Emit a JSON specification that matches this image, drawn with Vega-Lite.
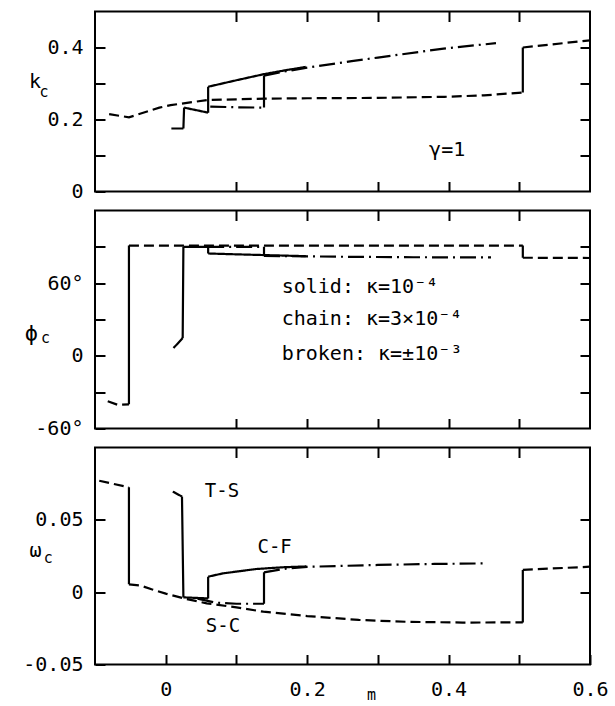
{
  "$schema": "https://vega.github.io/schema/vega-lite/v6.json",
  "padding": {"left": 21, "top": 9.5, "right": 5, "bottom": 4},
  "background": "white",
  "spacing": 19,
  "bounds": "flush",
  "datasets": {
    "p1": [
      {"curve": "broken", "seg": "b1", "m": -0.080, "v": 0.215},
      {"curve": "broken", "seg": "b1", "m": -0.052, "v": 0.206},
      {"curve": "broken", "seg": "b1", "m": -0.009, "v": 0.233},
      {"curve": "broken", "seg": "b1", "m": 0.007, "v": 0.240},
      {"curve": "broken", "seg": "b1", "m": 0.059, "v": 0.254},
      {"curve": "broken", "seg": "b1", "m": 0.14, "v": 0.258},
      {"curve": "broken", "seg": "b1", "m": 0.20, "v": 0.259},
      {"curve": "broken", "seg": "b1", "m": 0.30, "v": 0.260},
      {"curve": "broken", "seg": "b1", "m": 0.394, "v": 0.263},
      {"curve": "broken", "seg": "b1", "m": 0.45, "v": 0.267},
      {"curve": "broken", "seg": "b1", "m": 0.505, "v": 0.275},
      {"curve": "jump", "seg": "bj1", "m": 0.505, "v": 0.275},
      {"curve": "jump", "seg": "bj1", "m": 0.505, "v": 0.400},
      {"curve": "broken", "seg": "b2", "m": 0.505, "v": 0.400},
      {"curve": "broken", "seg": "b2", "m": 0.6, "v": 0.420},
      {"curve": "chain", "seg": "c1", "m": 0.063, "v": 0.236},
      {"curve": "chain", "seg": "c1", "m": 0.10, "v": 0.234},
      {"curve": "chain", "seg": "c1", "m": 0.139, "v": 0.233},
      {"curve": "jump", "seg": "cj1", "m": 0.139, "v": 0.233},
      {"curve": "jump", "seg": "cj1", "m": 0.139, "v": 0.322},
      {"curve": "chain", "seg": "c2", "m": 0.139, "v": 0.322},
      {"curve": "chain", "seg": "c2", "m": 0.17, "v": 0.334},
      {"curve": "chain", "seg": "c2", "m": 0.20, "v": 0.344},
      {"curve": "chain", "seg": "c2", "m": 0.263, "v": 0.362},
      {"curve": "chain", "seg": "c2", "m": 0.30, "v": 0.372},
      {"curve": "chain", "seg": "c2", "m": 0.393, "v": 0.397},
      {"curve": "chain", "seg": "c2", "m": 0.467, "v": 0.412},
      {"curve": "solid", "seg": "s1", "m": 0.008, "v": 0.175},
      {"curve": "solid", "seg": "s1", "m": 0.025, "v": 0.175},
      {"curve": "jump", "seg": "sj1", "m": 0.025, "v": 0.175},
      {"curve": "jump", "seg": "sj1", "m": 0.026, "v": 0.233},
      {"curve": "solid", "seg": "s2", "m": 0.026, "v": 0.233},
      {"curve": "solid", "seg": "s2", "m": 0.06, "v": 0.219},
      {"curve": "jump", "seg": "sj2", "m": 0.06, "v": 0.219},
      {"curve": "jump", "seg": "sj2", "m": 0.06, "v": 0.291},
      {"curve": "solid", "seg": "s3", "m": 0.06, "v": 0.291},
      {"curve": "solid", "seg": "s3", "m": 0.10, "v": 0.309},
      {"curve": "solid", "seg": "s3", "m": 0.139, "v": 0.326},
      {"curve": "solid", "seg": "s3", "m": 0.17, "v": 0.337},
      {"curve": "solid", "seg": "s3", "m": 0.198, "v": 0.346}
    ],
    "p2": [
      {"curve": "broken", "seg": "b1", "m": -0.082, "v": -37.5},
      {"curve": "broken", "seg": "b1", "m": -0.068, "v": -40.4},
      {"curve": "broken", "seg": "b1", "m": -0.052, "v": -40.0},
      {"curve": "jump", "seg": "bj1", "m": -0.052, "v": -40.0},
      {"curve": "jump", "seg": "bj1", "m": -0.052, "v": 91},
      {"curve": "broken", "seg": "b2", "m": -0.052, "v": 91},
      {"curve": "broken", "seg": "b2", "m": 0.505, "v": 91},
      {"curve": "jump", "seg": "bj2", "m": 0.505, "v": 91},
      {"curve": "jump", "seg": "bj2", "m": 0.505, "v": 81},
      {"curve": "broken", "seg": "b3", "m": 0.505, "v": 81},
      {"curve": "broken", "seg": "b3", "m": 0.6, "v": 80.8},
      {"curve": "solid", "seg": "s1", "m": 0.011, "v": 6.4},
      {"curve": "solid", "seg": "s1", "m": 0.024, "v": 14.7},
      {"curve": "jump", "seg": "sj1", "m": 0.024, "v": 14.7},
      {"curve": "jump", "seg": "sj1", "m": 0.025, "v": 90},
      {"curve": "solid", "seg": "s2", "m": 0.025, "v": 90},
      {"curve": "solid", "seg": "s2", "m": 0.06, "v": 90},
      {"curve": "jump", "seg": "sj2", "m": 0.06, "v": 90},
      {"curve": "jump", "seg": "sj2", "m": 0.06, "v": 84.5},
      {"curve": "solid", "seg": "s3", "m": 0.06, "v": 84.5},
      {"curve": "solid", "seg": "s3", "m": 0.10, "v": 83.8},
      {"curve": "solid", "seg": "s3", "m": 0.139, "v": 83.2},
      {"curve": "solid", "seg": "s3", "m": 0.198, "v": 82.3},
      {"curve": "chain", "seg": "c1", "m": 0.06, "v": 90},
      {"curve": "chain", "seg": "c1", "m": 0.139, "v": 90},
      {"curve": "jump", "seg": "cj1", "m": 0.139, "v": 90},
      {"curve": "jump", "seg": "cj1", "m": 0.139, "v": 82.5},
      {"curve": "chain", "seg": "c2", "m": 0.139, "v": 82.5},
      {"curve": "chain", "seg": "c2", "m": 0.25, "v": 81.8},
      {"curve": "chain", "seg": "c2", "m": 0.35, "v": 81.4},
      {"curve": "chain", "seg": "c2", "m": 0.46, "v": 81.3}
    ],
    "p3": [
      {"curve": "broken", "seg": "b1", "m": -0.094, "v": 0.077},
      {"curve": "broken", "seg": "b1", "m": -0.052, "v": 0.0725},
      {"curve": "jump", "seg": "bj1", "m": -0.052, "v": 0.0725},
      {"curve": "jump", "seg": "bj1", "m": -0.052, "v": 0.0054},
      {"curve": "broken", "seg": "b2", "m": -0.052, "v": 0.0054},
      {"curve": "broken", "seg": "b2", "m": -0.035, "v": 0.0045},
      {"curve": "broken", "seg": "b2", "m": -0.02, "v": 0.002},
      {"curve": "broken", "seg": "b2", "m": 0.0, "v": -0.001},
      {"curve": "broken", "seg": "b2", "m": 0.03, "v": -0.0048},
      {"curve": "broken", "seg": "b2", "m": 0.058, "v": -0.0077},
      {"curve": "broken", "seg": "b2", "m": 0.10, "v": -0.0105},
      {"curve": "broken", "seg": "b2", "m": 0.138, "v": -0.0135},
      {"curve": "broken", "seg": "b2", "m": 0.20, "v": -0.0165},
      {"curve": "broken", "seg": "b2", "m": 0.273, "v": -0.0192},
      {"curve": "broken", "seg": "b2", "m": 0.342, "v": -0.0205},
      {"curve": "broken", "seg": "b2", "m": 0.42, "v": -0.021},
      {"curve": "broken", "seg": "b2", "m": 0.505, "v": -0.0209},
      {"curve": "jump", "seg": "bj2", "m": 0.505, "v": -0.0209},
      {"curve": "jump", "seg": "bj2", "m": 0.505, "v": 0.0154},
      {"curve": "broken", "seg": "b3", "m": 0.505, "v": 0.0154},
      {"curve": "broken", "seg": "b3", "m": 0.6, "v": 0.0176},
      {"curve": "solid", "seg": "s1", "m": 0.010, "v": 0.0695},
      {"curve": "solid", "seg": "s1", "m": 0.023, "v": 0.0661},
      {"curve": "jump", "seg": "sj1", "m": 0.023, "v": 0.0661},
      {"curve": "jump", "seg": "sj1", "m": 0.025, "v": -0.0036},
      {"curve": "solid", "seg": "s2", "m": 0.025, "v": -0.0036},
      {"curve": "solid", "seg": "s2", "m": 0.06, "v": -0.0043},
      {"curve": "jump", "seg": "sj2", "m": 0.06, "v": -0.0043},
      {"curve": "jump", "seg": "sj2", "m": 0.06, "v": 0.0107},
      {"curve": "solid", "seg": "s3", "m": 0.06, "v": 0.0107},
      {"curve": "solid", "seg": "s3", "m": 0.081, "v": 0.013},
      {"curve": "solid", "seg": "s3", "m": 0.128, "v": 0.016},
      {"curve": "solid", "seg": "s3", "m": 0.165, "v": 0.0172},
      {"curve": "solid", "seg": "s3", "m": 0.199, "v": 0.0178},
      {"curve": "chain", "seg": "c1", "m": 0.045, "v": -0.0045},
      {"curve": "chain", "seg": "c1", "m": 0.07, "v": -0.0072},
      {"curve": "chain", "seg": "c1", "m": 0.10, "v": -0.008},
      {"curve": "chain", "seg": "c1", "m": 0.139, "v": -0.008},
      {"curve": "jump", "seg": "cj1", "m": 0.139, "v": -0.008},
      {"curve": "jump", "seg": "cj1", "m": 0.139, "v": 0.0137},
      {"curve": "chain", "seg": "c2", "m": 0.139, "v": 0.0137},
      {"curve": "chain", "seg": "c2", "m": 0.17, "v": 0.0163},
      {"curve": "chain", "seg": "c2", "m": 0.20, "v": 0.0175},
      {"curve": "chain", "seg": "c2", "m": 0.30, "v": 0.0188},
      {"curve": "chain", "seg": "c2", "m": 0.38, "v": 0.0195},
      {"curve": "chain", "seg": "c2", "m": 0.455, "v": 0.0199}
    ],
    "t1main": [{"m": -0.185, "v": 0.303, "t": "k"}],
    "t1sub": [{"m": -0.172, "v": 0.276, "t": "c"}],
    "t1note": [{"m": 0.398, "v": 0.116, "t": "γ=1"}],
    "t2main": [{"m": -0.19, "v": 18, "t": "ϕ"}],
    "t2sub": [{"m": -0.17, "v": 15, "t": "c"}],
    "t2note": [
      {"m": 0.164, "v": 56.6, "t": "solid: κ=10⁻⁴"},
      {"m": 0.164, "v": 30.4, "t": "chain: κ=3×10⁻⁴"},
      {"m": 0.164, "v": 1.5, "t": "broken: κ=±10⁻³"}
    ],
    "t3main": [{"m": -0.184, "v": 0.0282, "t": "ω"}],
    "t3sub": [{"m": -0.166, "v": 0.0234, "t": "c"}],
    "t3note": [
      {"m": 0.0795, "v": 0.070, "t": "T-S"},
      {"m": 0.154, "v": 0.0315, "t": "C-F"},
      {"m": 0.081, "v": -0.0235, "t": "S-C"}
    ]
  },
  "vconcat": [
    {
      "width": 495,
      "height": 180,
      "resolve": {"axis": {"x": "independent", "y": "independent"}},
      "layer": [
        {
          "data": {"name": "p1"},
          "mark": {"type": "line", "color": "black", "strokeWidth": 2.2},
          "encoding": {
            "x": {"field": "m", "type": "quantitative", "scale": {"domain": [-0.1, 0.6], "nice": false, "zero": false},
                  "axis": {"orient": "bottom", "values": [0.1, 0.2, 0.3, 0.4, 0.5], "labels": false, "title": null}},
            "y": {"field": "v", "type": "quantitative", "scale": {"domain": [0, 0.5], "nice": false, "zero": false},
                  "axis": {"orient": "left", "values": [0, 0.1, 0.2, 0.3, 0.4], "labelExpr": "datum.value==0 ? '0' : (datum.value==0.2 ? '0.2' : (datum.value==0.4 ? '0.4' : ''))", "title": null}},
            "detail": {"field": "seg"},
            "strokeDash": {"field": "curve", "type": "nominal", "scale": {"domain": ["solid", "chain", "broken", "jump"], "range": [[1, 0], [16, 5, 2, 5], [10, 5], [1, 0]]}, "legend": null}
          }
        },
        {
          "mark": {"type": "rule", "color": "black", "strokeWidth": 2},
          "encoding": {"x": {"datum": 0, "type": "quantitative", "scale": {"domain": [-0.1, 0.6], "nice": false, "zero": false}, "axis": null}}
        },
        {
          "data": {"name": "t1main"},
          "mark": {"type": "text", "fontSize": 20},
          "encoding": {
            "x": {"field": "m", "type": "quantitative", "scale": {"domain": [-0.1, 0.6], "nice": false, "zero": false},
                  "axis": {"orient": "top", "values": [0.1, 0.2, 0.3, 0.4, 0.5], "labels": false, "title": null}},
            "y": {"field": "v", "type": "quantitative", "scale": {"domain": [0, 0.5], "nice": false, "zero": false},
                  "axis": {"orient": "right", "values": [0.1, 0.2, 0.3, 0.4], "labels": false, "title": null}},
            "text": {"field": "t"}
          }
        },
        {
          "data": {"name": "t1sub"},
          "mark": {"type": "text", "fontSize": 15},
          "encoding": {
            "x": {"field": "m", "type": "quantitative", "scale": {"domain": [-0.1, 0.6], "nice": false, "zero": false}, "axis": null},
            "y": {"field": "v", "type": "quantitative", "scale": {"domain": [0, 0.5], "nice": false, "zero": false}, "axis": null},
            "text": {"field": "t"}
          }
        },
        {
          "data": {"name": "t1note"},
          "mark": {"type": "text", "fontSize": 20},
          "encoding": {
            "x": {"field": "m", "type": "quantitative", "scale": {"domain": [-0.1, 0.6], "nice": false, "zero": false}, "axis": null},
            "y": {"field": "v", "type": "quantitative", "scale": {"domain": [0, 0.5], "nice": false, "zero": false}, "axis": null},
            "text": {"field": "t"}
          }
        }
      ]
    },
    {
      "width": 495,
      "height": 218,
      "resolve": {"axis": {"x": "independent", "y": "independent"}},
      "layer": [
        {
          "data": {"name": "p2"},
          "mark": {"type": "line", "color": "black", "strokeWidth": 2.2},
          "encoding": {
            "x": {"field": "m", "type": "quantitative", "scale": {"domain": [-0.1, 0.6], "nice": false, "zero": false},
                  "axis": {"orient": "bottom", "values": [0.1, 0.2, 0.3, 0.4, 0.5], "labels": false, "title": null}},
            "y": {"field": "v", "type": "quantitative", "scale": {"domain": [-60, 120], "nice": false, "zero": false},
                  "axis": {"orient": "left", "values": [-60, -30, 0, 30, 60, 90], "labelExpr": "datum.value==0 ? '0' : (datum.value==60 ? '60°' : (datum.value==-60 ? '-60°' : ''))", "title": null}},
            "detail": {"field": "seg"},
            "strokeDash": {"field": "curve", "type": "nominal", "scale": {"domain": ["solid", "chain", "broken", "jump"], "range": [[1, 0], [16, 5, 2, 5], [10, 5], [1, 0]]}, "legend": null}
          }
        },
        {
          "mark": {"type": "rule", "color": "black", "strokeWidth": 2},
          "encoding": {"x": {"datum": 0, "type": "quantitative", "scale": {"domain": [-0.1, 0.6], "nice": false, "zero": false}, "axis": null}}
        },
        {
          "data": {"name": "t2main"},
          "mark": {"type": "text", "fontSize": 22},
          "encoding": {
            "x": {"field": "m", "type": "quantitative", "scale": {"domain": [-0.1, 0.6], "nice": false, "zero": false},
                  "axis": {"orient": "top", "values": [0.1, 0.2, 0.3, 0.4, 0.5], "labels": false, "title": null}},
            "y": {"field": "v", "type": "quantitative", "scale": {"domain": [-60, 120], "nice": false, "zero": false},
                  "axis": {"orient": "right", "values": [-30, 0, 30, 60, 90], "labels": false, "title": null}},
            "text": {"field": "t"}
          }
        },
        {
          "data": {"name": "t2sub"},
          "mark": {"type": "text", "fontSize": 15},
          "encoding": {
            "x": {"field": "m", "type": "quantitative", "scale": {"domain": [-0.1, 0.6], "nice": false, "zero": false}, "axis": null},
            "y": {"field": "v", "type": "quantitative", "scale": {"domain": [-60, 120], "nice": false, "zero": false}, "axis": null},
            "text": {"field": "t"}
          }
        },
        {
          "data": {"name": "t2note"},
          "mark": {"type": "text", "fontSize": 20, "align": "left"},
          "encoding": {
            "x": {"field": "m", "type": "quantitative", "scale": {"domain": [-0.1, 0.6], "nice": false, "zero": false}, "axis": null},
            "y": {"field": "v", "type": "quantitative", "scale": {"domain": [-60, 120], "nice": false, "zero": false}, "axis": null},
            "text": {"field": "t"}
          }
        }
      ]
    },
    {
      "width": 495,
      "height": 217,
      "resolve": {"axis": {"x": "independent", "y": "independent"}},
      "layer": [
        {
          "data": {"name": "p3"},
          "mark": {"type": "line", "color": "black", "strokeWidth": 2.2},
          "encoding": {
            "x": {"field": "m", "type": "quantitative", "scale": {"domain": [-0.1, 0.6], "nice": false, "zero": false},
                  "axis": {"orient": "bottom", "values": [0, 0.1, 0.2, 0.3, 0.4, 0.5, 0.6], "labelExpr": "datum.value==0 ? '0' : (datum.value==0.2 ? '0.2' : (datum.value==0.4 ? '0.4' : (datum.value==0.6 ? '0.6' : '')))", "labelBaseline": "middle", "labelPadding": 35,
                           "title": "m", "titleFont": "DejaVu Sans Mono", "titleFontSize": 15, "titleFontWeight": "normal", "titleColor": "black", "titleX": 276, "titleY": 30, "titleBaseline": "middle"}},
            "y": {"field": "v", "type": "quantitative", "scale": {"domain": [-0.05, 0.1], "nice": false, "zero": false},
                  "axis": {"orient": "left", "values": [-0.05, 0, 0.05], "labelExpr": "datum.value==0 ? '0' : (datum.value < 0 ? '-0.05' : '0.05')", "title": null}},
            "detail": {"field": "seg"},
            "strokeDash": {"field": "curve", "type": "nominal", "scale": {"domain": ["solid", "chain", "broken", "jump"], "range": [[1, 0], [16, 5, 2, 5], [10, 5], [1, 0]]}, "legend": null}
          }
        },
        {
          "mark": {"type": "rule", "color": "black", "strokeWidth": 2},
          "encoding": {"x": {"datum": 0, "type": "quantitative", "scale": {"domain": [-0.1, 0.6], "nice": false, "zero": false}, "axis": null}}
        },
        {
          "data": {"name": "t3main"},
          "mark": {"type": "text", "fontSize": 20},
          "encoding": {
            "x": {"field": "m", "type": "quantitative", "scale": {"domain": [-0.1, 0.6], "nice": false, "zero": false},
                  "axis": {"orient": "top", "values": [0.1, 0.2, 0.3, 0.4, 0.5], "labels": false, "title": null}},
            "y": {"field": "v", "type": "quantitative", "scale": {"domain": [-0.05, 0.1], "nice": false, "zero": false},
                  "axis": {"orient": "right", "values": [0, 0.05], "labels": false, "title": null}},
            "text": {"field": "t"}
          }
        },
        {
          "data": {"name": "t3sub"},
          "mark": {"type": "text", "fontSize": 15},
          "encoding": {
            "x": {"field": "m", "type": "quantitative", "scale": {"domain": [-0.1, 0.6], "nice": false, "zero": false}, "axis": null},
            "y": {"field": "v", "type": "quantitative", "scale": {"domain": [-0.05, 0.1], "nice": false, "zero": false}, "axis": null},
            "text": {"field": "t"}
          }
        },
        {
          "data": {"name": "t3note"},
          "mark": {"type": "text", "fontSize": 19},
          "encoding": {
            "x": {"field": "m", "type": "quantitative", "scale": {"domain": [-0.1, 0.6], "nice": false, "zero": false}, "axis": null},
            "y": {"field": "v", "type": "quantitative", "scale": {"domain": [-0.05, 0.1], "nice": false, "zero": false}, "axis": null},
            "text": {"field": "t"}
          }
        }
      ]
    }
  ],
  "config": {
    "view": {"stroke": "black", "strokeWidth": 2},
    "axis": {
      "domain": false, "grid": false, "ticks": true,
      "tickColor": "black", "tickWidth": 2, "tickSize": -10,
      "labelFont": "DejaVu Sans Mono", "labelFontSize": 20, "labelColor": "black",
      "labelFlush": false, "labelOverlap": false, "labelPadding": 22
    },
    "text": {"font": "DejaVu Sans Mono", "color": "black", "baseline": "middle"}
  }
}
